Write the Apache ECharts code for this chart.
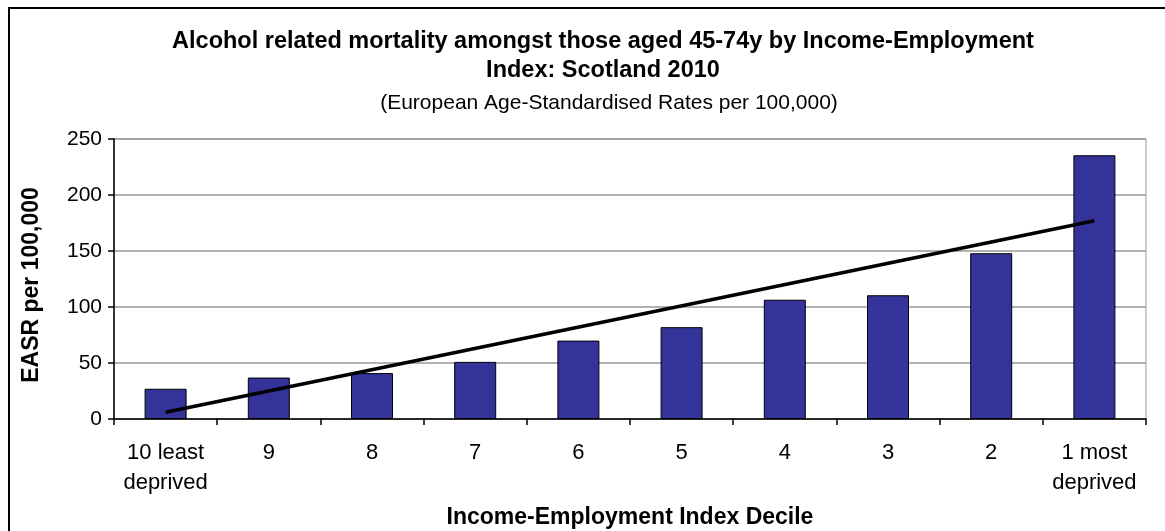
<!DOCTYPE html>
<html>
<head>
<meta charset="utf-8">
<script src="https://cdn.jsdelivr.net/npm/echarts@6/dist/echarts.min.js"></script>
<style>
html,body{margin:0;padding:0;background:#fff;}
#c{width:1165px;height:531px;}
</style>
</head>
<body>
<div id="c"></div>
<script>
const categories = ['10 least\ndeprived', '9', '8', '7', '6', '5', '4', '3', '2', '1 most\ndeprived'];
const rates = [27, 37, 41, 51, 70, 82, 106.5, 110.5, 148, 235.5];
const trend = [6, null, null, null, null, null, null, null, null, 177];
const yTicks = [0, 50, 100, 150, 200, 250];
const titleLines = ['Alcohol related mortality amongst those aged 45-74y by Income-Employment', 'Index: Scotland 2010'];
const subtitle = '(European Age-Standardised Rates per 100,000)';

const FONT = 'Liberation Sans, Arial, sans-serif';
const chart = echarts.init(document.getElementById('c'), null, {renderer: 'canvas'});
chart.setOption({
  animation: false,
  backgroundColor: '#fff',
  textStyle: {fontFamily: FONT},
  graphic: [
    {
      type: 'rect', silent: true, z: 100,
      shape: {x: 9, y: 8, width: 1200, height: 600},
      style: {fill: 'none', stroke: '#000', lineWidth: 2}
    },
    {
      type: 'text', silent: true, x: 603, y: 42,
      style: {text: titleLines[0], fill: '#000', font: 'bold 23.5px ' + FONT, align: 'center', verticalAlign: 'middle'}
    },
    {
      type: 'text', silent: true, x: 603, y: 71,
      style: {text: titleLines[1], fill: '#000', font: 'bold 23.5px ' + FONT, align: 'center', verticalAlign: 'middle'}
    },
    {
      type: 'text', silent: true, x: 609, y: 103,
      style: {text: subtitle, fill: '#000', font: '21px ' + FONT, align: 'center', verticalAlign: 'middle'}
    }
  ],
  grid: {left: 114, right: 19, top: 139, bottom: 112, outerBoundsMode: 'none', containLabel: false, show: true, borderColor: '#999', borderWidth: 1, backgroundColor: 'transparent'},
  xAxis: {
    type: 'category',
    data: categories,
    boundaryGap: true,
    name: 'Income-Employment Index Decile',
    nameLocation: 'middle',
    nameGap: 87,
    nameTextStyle: {fontFamily: FONT, fontSize: 23, fontWeight: 'bold', color: '#000', lineHeight: 24},
    axisLine: {show: true, lineStyle: {color: '#000', width: 1.5}},
    axisTick: {show: true, alignWithLabel: false, length: 6, lineStyle: {color: '#000', width: 1.5}},
    axisLabel: {interval: 0, fontFamily: FONT, fontSize: 22, color: '#000', lineHeight: 30, margin: 19},
    splitLine: {show: false}
  },
  yAxis: {
    type: 'value',
    min: yTicks[0], max: yTicks[yTicks.length - 1], interval: 50,
    name: 'EASR per 100,000',
    nameLocation: 'middle',
    nameGap: 71,
    nameRotate: 90,
    nameTextStyle: {fontFamily: FONT, fontSize: 23, fontWeight: 'bold', color: '#000', padding: [0, 12, 0, 0]},
    axisLine: {show: true, lineStyle: {color: '#000', width: 1.5}},
    axisTick: {show: true, length: 6, lineStyle: {color: '#000', width: 1.5}},
    axisLabel: {fontFamily: FONT, fontSize: 21, color: '#000', margin: 12},
    splitLine: {show: true, lineStyle: {color: '#999', width: 1.5}}
  },
  series: [
    {
      type: 'bar',
      data: rates,
      barWidth: 42,
      itemStyle: {color: '#333399', borderColor: '#000', borderWidth: 1}
    },
    {
      type: 'line',
      data: trend,
      connectNulls: true,
      symbol: 'none',
      z: 5,
      lineStyle: {color: '#000', width: 3.5}
    }
  ]
});
</script>
</body>
</html>
